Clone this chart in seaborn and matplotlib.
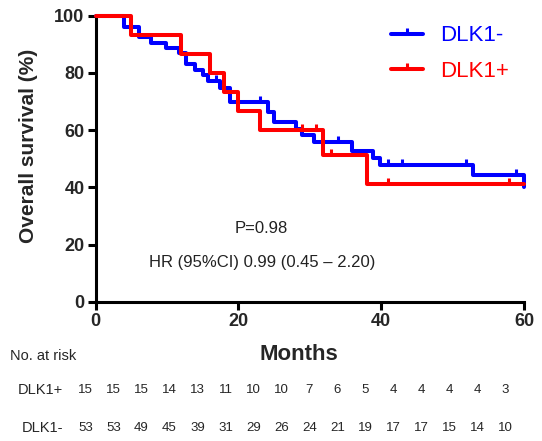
import numpy as np
import pandas as pd
import matplotlib
matplotlib.use("Agg")
import matplotlib.pyplot as plt
from matplotlib.path import Path
from matplotlib.lines import Line2D
import seaborn as sns

# Kaplan-Meier step curves: time (months) and survival (%) after each step
neg_time = [0, 4.0, 6.0, 7.8, 9.9, 11.6, 12.7, 13.9, 15.0, 15.75, 17.4, 18.8,
            24.2, 25.0, 28.0, 28.9, 30.6, 35.9, 38.9, 39.8, 52.8, 60.0]
neg_surv = [100, 96.2, 92.5, 90.6, 88.7, 86.8, 83.0, 81.0, 79.2, 77.3, 74.8, 70.0,
            66.3, 62.7, 60.5, 58.2, 55.7, 52.8, 50.1, 47.7, 44.2, 40.0]
pos_time = [0, 5.0, 12.0, 16.0, 18.0, 20.0, 23.0, 31.8, 38.0, 60.0]
pos_surv = [100, 93.3, 86.7, 80.0, 73.3, 66.7, 60.0, 51.4, 41.2, 41.2]

# Censored observations
neg_cens_time = [16.9, 23.0, 33.9, 40.9, 42.9, 51.9, 58.9]
neg_cens_surv = [77.3, 70.0, 55.7, 47.7, 47.7, 47.7, 44.2]
pos_cens_time = [28.9, 30.9, 32.9, 40.9, 57.9]
pos_cens_surv = [60.0, 60.0, 51.4, 41.2, 41.2]

# Number at risk every 4 months
risk_months = list(range(0, 61, 4))
risk_pos = [15, 15, 15, 14, 13, 11, 10, 10, 7, 6, 5, 4, 4, 4, 4, 3]
risk_neg = [53, 53, 49, 45, 39, 31, 29, 26, 24, 21, 19, 17, 17, 15, 14, 10]

groups = ["DLK1-", "DLK1+"]
palette = {"DLK1-": "#0000ff", "DLK1+": "#ff0000"}

curves = pd.concat([
    pd.DataFrame({"time": neg_time, "surv": neg_surv, "group": "DLK1-"}),
    pd.DataFrame({"time": pos_time, "surv": pos_surv, "group": "DLK1+"}),
])
censored = pd.concat([
    pd.DataFrame({"time": neg_cens_time, "surv": neg_cens_surv, "group": "DLK1-"}),
    pd.DataFrame({"time": pos_cens_time, "surv": pos_cens_surv, "group": "DLK1+"}),
])

sns.set_theme(style="white")
plt.rcParams["font.family"] = ["Liberation Sans", "DejaVu Sans"]

fig = plt.figure(figsize=(5.42, 4.41), dpi=100)
ax = fig.add_axes([95.7 / 542, 1 - 301.7 / 441, (524 - 95.7) / 542, (301.7 - 15.7) / 441])

tick_mark = Path([(0, 0), (0, 1)])

for g in groups:
    sub = curves[curves.group == g]
    sns.lineplot(data=sub, x="time", y="surv", drawstyle="steps-post",
                 color=palette[g], linewidth=2.9, ax=ax, estimator=None,
                 sort=False, clip_on=False, zorder=3 if g == "DLK1+" else 2)
    cs = censored[censored.group == g]
    sns.scatterplot(data=cs, x="time", y="surv", marker=tick_mark, s=80,
                    linewidth=2.2, edgecolor=palette[g], facecolor=palette[g],
                    ax=ax, clip_on=False, zorder=3 if g == "DLK1+" else 2)

ax.set_xlim(0, 60)
ax.set_ylim(0, 100)
ax.set_xticks([0, 20, 40, 60])
ax.set_yticks([0, 20, 40, 60, 80, 100])
ax.set_xlabel("")
ax.set_ylabel("")
for side in ["top", "right"]:
    ax.spines[side].set_visible(False)
for side in ["left", "bottom"]:
    ax.spines[side].set_linewidth(2.2)
    ax.spines[side].set_color("black")
ax.tick_params(axis="both", direction="out", length=6, width=2.2, color="black",
               labelsize=13, pad=2, left=True, bottom=True)
for lab in ax.get_xticklabels() + ax.get_yticklabels():
    lab.set_fontweight("bold")

fig.text(29 / 542, 1 - 146 / 441, "Overall survival (%)", rotation=90,
         ha="center", va="center", fontsize=15, fontweight="bold")
fig.text(299 / 542, 1 - 355 / 441, "Months", ha="center", va="center",
         fontsize=16, fontweight="bold")

handles = [Line2D([], [], color=palette[g], linewidth=2.9, marker=tick_mark,
                  markersize=9, markeredgewidth=2.2) for g in groups]
leg = ax.legend(handles, groups, loc="upper left",
                bbox_to_anchor=(387 / 542, 1 - 21 / 441),
                bbox_transform=fig.transFigure, borderaxespad=0, borderpad=0.2,
                frameon=False, fontsize=16, handlelength=1.4, handletextpad=0.8,
                labelspacing=0.65, numpoints=1)
for txt, g in zip(leg.get_texts(), groups):
    txt.set_color(palette[g])

ax.text(261 / 542, 1 - 229 / 441, "P=0.98", transform=fig.transFigure,
        ha="center", va="center", fontsize=12, color="#222222")
ax.text(262 / 542, 1 - 262 / 441, "HR (95%CI) 0.99 (0.45 \u2013 2.20)",
        transform=fig.transFigure, ha="center", va="center", fontsize=12,
        color="#222222")

# Number-at-risk table
fig.text(10 / 542, 1 - 356 / 441, "No. at risk", ha="left", va="center", fontsize=10.5)
fig.text(63 / 542, 1 - 390 / 441, "DLK1+", ha="right", va="center", fontsize=10.5)
fig.text(63 / 542, 1 - 428 / 441, "DLK1-", ha="right", va="center", fontsize=10.5)
for i, m in enumerate(risk_months):
    xp = (85.5 + 28.0 * i) / 542
    fig.text(xp, 1 - 390 / 441, str(risk_pos[i]), ha="center", va="center", fontsize=9.5)
    fig.text(xp, 1 - 428 / 441, str(risk_neg[i]), ha="center", va="center", fontsize=9.5)

fig.savefig("out.png", dpi=100)
